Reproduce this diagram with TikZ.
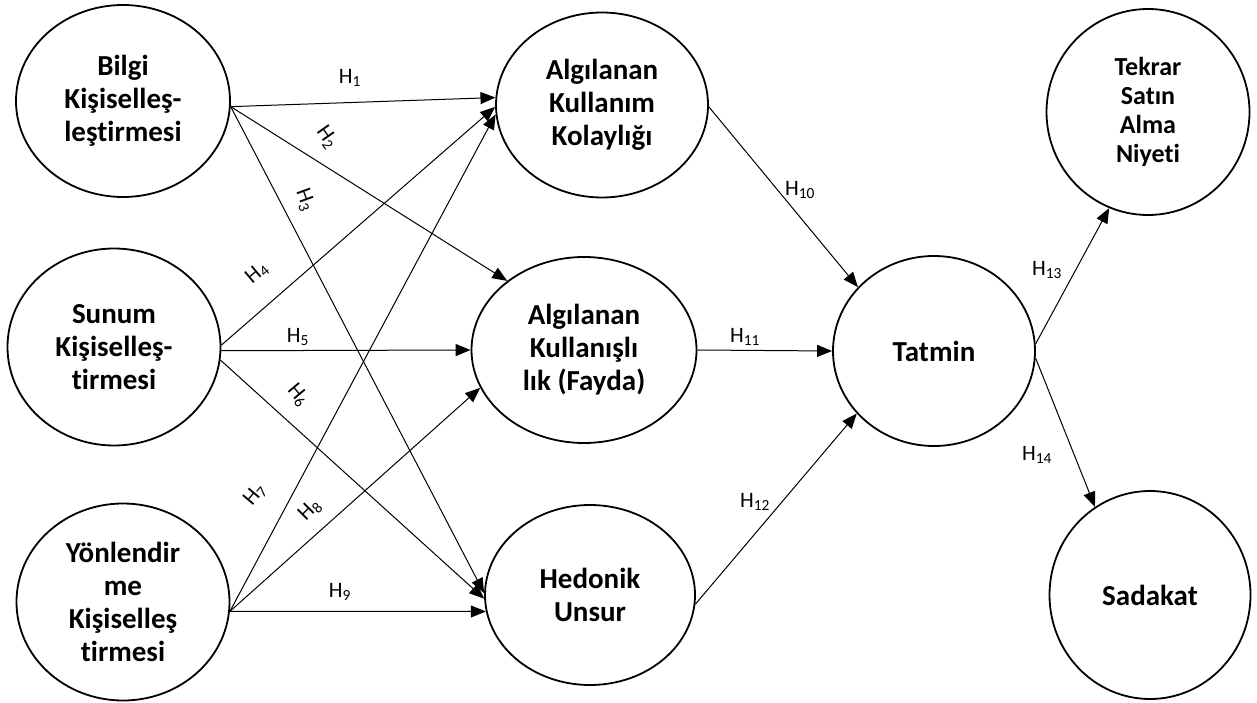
\documentclass[tikz,border=0pt]{standalone}
\usepackage{fontspec}
\setmainfont{Carlito}[Ligatures=NoCommon]
\usetikzlibrary{shapes.geometric,arrows.meta}

\begin{document}
\begin{tikzpicture}[
  x=1pt, y=-1pt,
  yapi/.style={
    ellipse, draw, line width=1.8pt, inner sep=0pt,
    align=center, font=\fontsize{29}{33}\selectfont\bfseries
  },
  yol/.style={
    line width=1pt, -{Triangle[length=15pt,width=12pt]}
  },
  hip/.style={
    font=\fontsize{22}{26}\selectfont, inner sep=0pt
  }
  ]
  \useasboundingbox (0,0) rectangle (1257,703);

  \node [yapi, minimum width=214, minimum height=192] (bilgi) at (123,101) {Bilgi\\Kişiselleş-\\leştirmesi};
  \node [yapi, minimum width=213, minimum height=197] (sunum) at (114,347) {Sunum\\Kişiselleş-\\tirmesi};
  \node [yapi, minimum width=213, minimum height=197] (yon) at (123,602) {Yönlendir\\me\\Kişiselleş\\tirmesi};
  \node [yapi, minimum width=212, minimum height=185] (akk) at (602,105) {Algılanan\\Kullanım\\Kolaylığı};
  \node [yapi, minimum width=225, minimum height=186] (fayda) at (584,350) {Algılanan\\Kullanışlı\\lık (Fayda)};
  \node [yapi, minimum width=210, minimum height=180] (hedonik) at (590,595) {Hedonik\\Unsur};
  \node [yapi, minimum width=202, minimum height=190] (tatmin) at (934,351) {Tatmin};
  \node [yapi, minimum width=203, minimum height=206, font=\fontsize{26}{29}\selectfont\bfseries] (tekrar) at (1148,112) {Tekrar\\Satın\\Alma\\Niyeti};
  \node [yapi, minimum width=201, minimum height=208] (sadakat) at (1150,595) {Sadakat};

  \draw [yol] (bilgi.-3) -- (akk.176);
  \draw [yol] (bilgi.-3) -- (fayda.138);
  \draw [yol] (bilgi.-3) -- (hedonik.179);
  \draw [yol] (sunum.1) -- (akk.181);
  \draw [yol] (sunum.-2) -- (fayda.180);
  \draw [yol] (sunum.-7) -- (hedonik.182);
  \draw [yol] (yon.-5) -- (akk.185);
  \draw [yol] (yon.-5) -- (fayda.200);
  \draw [yol] (yon.-5) -- (hedonik.189);
  \draw [yol] (akk.-1) -- (tatmin.140);
  \draw [yol] (fayda.0) -- (tatmin.180);
  \draw [yol] (hedonik.-5) -- (tatmin.219);
  \draw [yol] (tatmin.4) -- (tekrar.248);
  \draw [yol] (tatmin.-4) -- (sadakat.122);

  \node [hip] (h1) at (350,78) {H\textsubscript{1}};
  \node [hip, rotate=-55] (h2) at (327,137) {H\textsubscript{2}};
  \node [hip, rotate=-70] (h3) at (305,200) {H\textsubscript{3}};
  \node [hip, rotate=40] (h4) at (257,273) {H\textsubscript{4}};
  \node [hip] (h5) at (298,337) {H\textsubscript{5}};
  \node [hip, rotate=-50] (h6) at (298,395) {H\textsubscript{6}};
  \node [hip, rotate=50] (h7) at (255,495) {H\textsubscript{7}};
  \node [hip, rotate=45] (h8) at (310,510) {H\textsubscript{8}};
  \node [hip] (h9) at (340,592) {H\textsubscript{9}};
  \node [hip] (h10) at (800,190) {H\textsubscript{10}};
  \node [hip] (h11) at (745,337) {H\textsubscript{11}};
  \node [hip] (h12) at (755,502) {H\textsubscript{12}};
  \node [hip] (h13) at (1047,270) {H\textsubscript{13}};
  \node [hip] (h14) at (1037,455) {H\textsubscript{14}};
\end{tikzpicture}
\end{document}
